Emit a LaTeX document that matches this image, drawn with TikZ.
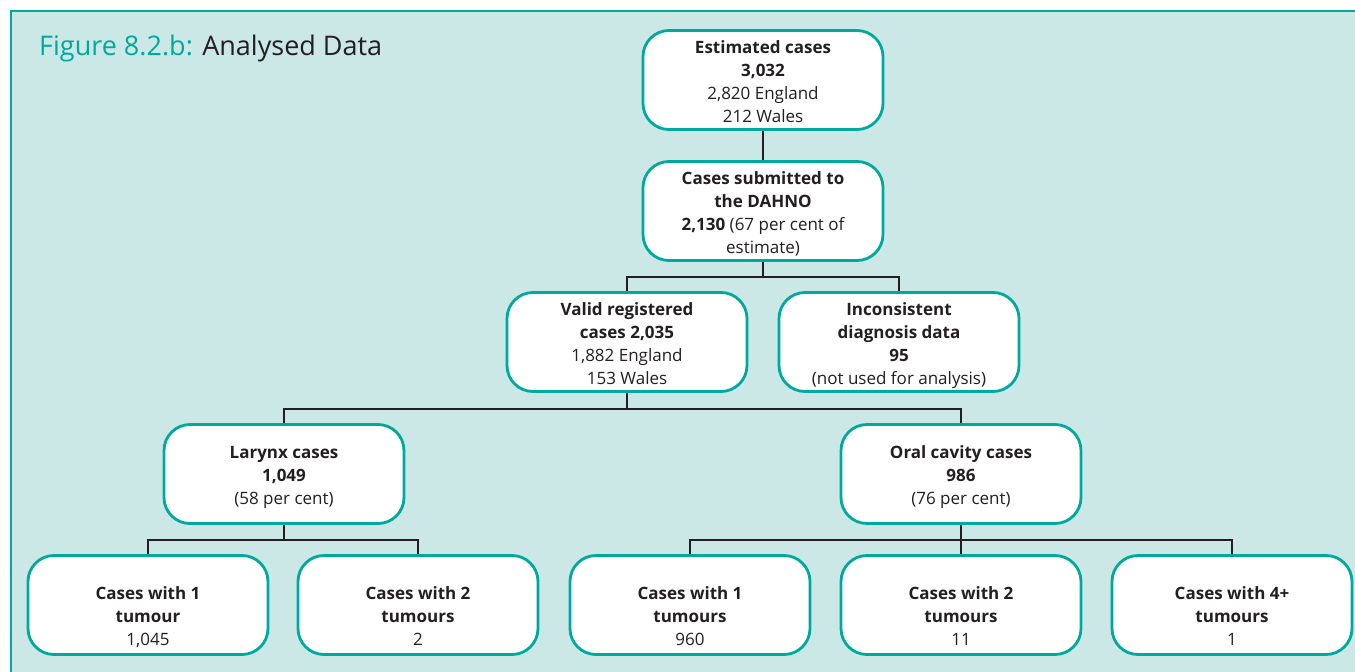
\documentclass[tikz,border=0pt]{standalone}
\usepackage{fontspec}
\setmainfont{Open Sans}
\usepackage{tikz}
\usepackage{xcolor}
\definecolor{teal}{HTML}{00A99D}
\definecolor{paleteal}{HTML}{CBE8E7}
\definecolor{ink}{HTML}{231F20}
\newcommand{\topgap}[1][20pt]{\rule{0pt}{#1}}
\newcommand{\botgap}{\rule[-5pt]{0pt}{5pt}}

\begin{document}
\begin{tikzpicture}[x=1pt, y=-1pt,
    box/.style={draw=teal, line width=2.8pt, fill=white, rounded corners=26pt,
      minimum width=240pt, minimum height=99pt, align=center, text=ink,
      font=\fontsize{17}{23}\selectfont, inner sep=2pt},
    link/.style={ink, line width=2.7pt}]
  \useasboundingbox (0,0) rectangle (1355,672);
  %--- Background panel
  \fill[paleteal] (11,11) rectangle (1355,672);
  \draw[teal, line width=2pt] (11,672) -- (11,11) -- (1355,11);
  \node[anchor=base west, inner sep=0pt, font=\fontsize{27}{30}\selectfont] (title) at (39,55)
    {\textcolor{teal}{Figure 8.2.b:} \textcolor{ink}{Analysed Data}};
  %--- Boxes
  \node[box] (est)   at (763,80)  {\topgap\textbf{Estimated cases}\\\textbf{3,032}\\2,820 England\\212 Wales\botgap};
  \node[box] (sub)   at (763,211) {\topgap\textbf{Cases submitted to}\\\textbf{the DAHNO}\\\textbf{2,130} (67 per cent of\\estimate)\botgap};
  \node[box] (valid) at (627,342) {\topgap\textbf{Valid registered}\\\textbf{cases 2,035}\\1,882 England\\153 Wales\botgap};
  \node[box] (incon) at (899,342) {\topgap\textbf{Inconsistent}\\\textbf{diagnosis data}\\\textbf{95}\\(not used for analysis)\botgap};
  \node[box] (lar)   at (284,474) {\topgap\textbf{Larynx cases}\\\textbf{1,049}\\(58 per cent)\botgap};
  \node[box] (oral)  at (961,474) {\topgap\textbf{Oral cavity cases}\\\textbf{986}\\(76 per cent)\botgap};
  \node[box] (lar1)  at (148,605) {\topgap[40pt]\textbf{Cases with 1}\\\textbf{tumour}\\1,045\botgap};
  \node[box] (lar2)  at (418,605) {\topgap[40pt]\textbf{Cases with 2}\\\textbf{tumours}\\2\botgap};
  \node[box] (or1)   at (690,605) {\topgap[40pt]\textbf{Cases with 1}\\\textbf{tumours}\\960\botgap};
  \node[box] (or2)   at (961,605) {\topgap[40pt]\textbf{Cases with 2}\\\textbf{tumours}\\11\botgap};
  \node[box] (or4)   at (1232,605) {\topgap[40pt]\textbf{Cases with 4+}\\\textbf{tumours}\\1\botgap};
  %--- Split points
  \coordinate (s1) at (763,277);
  \coordinate (s2) at (627,409);
  \coordinate (s3) at (284,540);
  \coordinate (s4) at (961,540);
  %--- Connectors
  \draw[link] (est) -- (sub);
  \draw[link] (sub) -- (s1);
  \draw[link] (valid.north) |- (s1) -| (incon.north);
  \draw[link] (valid) -- (s2);
  \draw[link] (lar.north) |- (s2) -| (oral.north);
  \draw[link] (lar) -- (s3);
  \draw[link] (lar1.north) |- (s3) -| (lar2.north);
  \draw[link] (oral) -- (s4);
  \draw[link] (or1.north) |- (s4) -| (or4.north);
  \draw[link] (s4) -- (or2.north);
\end{tikzpicture}
\end{document}
